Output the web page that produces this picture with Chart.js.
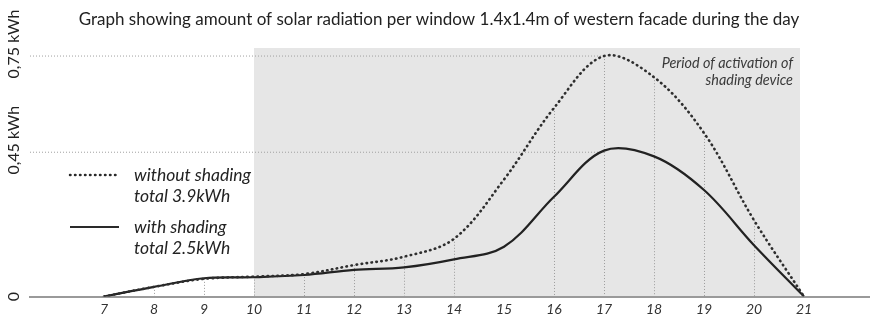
<!DOCTYPE html>
<html>
<head>
<meta charset="utf-8">
<script src="https://cdn.jsdelivr.net/npm/chart.js@4.4.0/dist/chart.umd.min.js"></script>
<style>
  html, body { margin: 0; padding: 0; background: #fff; }
</style>
</head>
<body>
<canvas id="chart" width="870" height="319"></canvas>
<script>
// hours of the day (x axis)
const hours = [7, 8, 9, 10, 11, 12, 13, 14, 15, 16, 17, 18, 19, 20, 21];
// kWh per window
const withoutShading = [0, 0.03, 0.055, 0.062, 0.07, 0.098, 0.124, 0.18, 0.365, 0.588, 0.75, 0.684, 0.51, 0.238, 0];
const withShading    = [0, 0.03, 0.057, 0.06, 0.067, 0.083, 0.091, 0.116, 0.155, 0.311, 0.455, 0.437, 0.332, 0.16, 0];
const yTicks = [0, 0.45, 0.75];
const yTickLabels = ['0', '0,45 kWh', '0,75 kWh'];
const guideHours = [8, 9, 10, 11, 12, 13, 14, 16, 17, 18, 19, 20];
const shadePeriod = [10, 20.92];
const legendLines = [
  ['without shading', 'total 3.9kWh'],
  ['with shading', 'total 2.5kWh'],
];
const title = 'Graph showing amount of solar radiation per window 1.4x1.4m of western facade during the day';
const note = ['Period of activation of', 'shading device'];

const X_MIN = 5.52, X_MAX = 22.32, Y_MAX = 0.8, SHADE_TOP = 0.775;
const FONT = 'Lato';
const DOTS = [0.5, 4.5];

const pts = arr => hours.map((h, i) => ({ x: h, y: arr[i] }));
const guide = v => [{ x: X_MIN, y: v }, { x: 17, y: v }];

const decor = {
  id: 'decor',
  beforeDraw(chart) {
    const { ctx, scales: { x, y } } = chart;
    const b = y.getPixelForValue(0);
    ctx.save();
    // shaded activation period
    const l = x.getPixelForValue(shadePeriod[0]);
    const r = x.getPixelForValue(shadePeriod[1]);
    const t = y.getPixelForValue(SHADE_TOP);
    ctx.fillStyle = '#e6e6e6';
    ctx.fillRect(l, t, r - l, b - t);
    // dotted drop lines
    ctx.strokeStyle = '#9c9c9c';
    ctx.lineWidth = 1;
    ctx.setLineDash([1, 2]);
    guideHours.forEach(h => {
      const i = hours.indexOf(h);
      const px = Math.round(x.getPixelForValue(h)) + 0.5;
      ctx.beginPath();
      ctx.moveTo(px, y.getPixelForValue(withoutShading[i]));
      ctx.lineTo(px, b);
      ctx.stroke();
    });
    ctx.restore();
  },
  afterDraw(chart) {
    const { ctx, scales: { y } } = chart;
    ctx.save();
    ctx.fillStyle = '#222';
    ctx.textBaseline = 'middle';

    // title
    ctx.font = `17px ${FONT}`;
    ctx.textAlign = 'center';
    ctx.fillText(title, 439, 20);

    // rotated y labels
    ctx.font = `16px ${FONT}`;
    yTicks.forEach((v, i) => {
      ctx.save();
      ctx.translate(14, y.getPixelForValue(v) - (v ? 12 : 0));
      ctx.rotate(-Math.PI / 2);
      ctx.fillText(yTickLabels[i], 0, 0);
      ctx.restore();
    });

    // note in shaded area
    ctx.fillStyle = '#3a3a3a';
    ctx.font = `italic 14.4px ${FONT}`;
    ctx.textAlign = 'right';
    ctx.fillText(note[0], 793, 63);
    ctx.fillText(note[1], 793, 80);

    // legend
    ctx.fillStyle = '#222';
    ctx.font = `italic 17.5px ${FONT}`;
    ctx.textAlign = 'left';
    const rows = [175, 227];
    rows.forEach((ry, k) => {
      ctx.save();
      ctx.strokeStyle = '#2a2a2a';
      ctx.lineWidth = k === 0 ? 2.5 : 2.2;
      ctx.lineCap = k === 0 ? 'round' : 'butt';
      ctx.setLineDash(k === 0 ? DOTS : []);
      ctx.beginPath();
      ctx.moveTo(70, ry);
      ctx.lineTo(119, ry);
      ctx.stroke();
      ctx.restore();
      ctx.fillText(legendLines[k][0], 134, ry);
      ctx.fillText(legendLines[k][1], 134, ry + 21);
    });
    ctx.restore();
  },
};

new Chart(document.getElementById('chart'), {
  type: 'line',
  data: {
    datasets: [
      {
        data: pts(withoutShading),
        borderColor: '#2e2e2e',
        borderWidth: 2.6,
        borderDash: DOTS,
        borderCapStyle: 'round',
        tension: 0.35,
        pointRadius: 0,
        fill: false,
      },
      {
        data: pts(withShading),
        borderColor: '#222',
        borderWidth: 2.2,
        tension: 0.35,
        pointRadius: 0,
        fill: false,
      },
      {
        data: guide(0.75),
        borderColor: '#a0a0a0',
        borderWidth: 1,
        borderDash: [1, 2],
        pointRadius: 0,
      },
      {
        data: guide(0.45),
        borderColor: '#a0a0a0',
        borderWidth: 1,
        borderDash: [1, 2],
        pointRadius: 0,
      },
    ],
  },
  options: {
    responsive: false,
    animation: false,
    devicePixelRatio: 1,
    layout: { padding: { left: 30, top: 40, right: 0, bottom: 0 } },
    plugins: { legend: { display: false }, tooltip: { enabled: false }, title: { display: false } },
    scales: {
      x: {
        type: 'linear',
        min: X_MIN,
        max: X_MAX,
        afterBuildTicks: s => { s.ticks = hours.map(v => ({ value: v })); },
        afterFit: s => { s.height = 22.5; },
        grid: { display: false, drawTicks: false },
        border: { display: true, color: '#9a9a9a', width: 2 },
        ticks: {
          autoSkip: false,
          maxRotation: 0,
          padding: 5,
          color: '#333',
          font: { family: FONT, size: 14, style: 'italic' },
          callback: v => v,
        },
      },
      y: {
        min: 0,
        max: Y_MAX,
        display: false,
      },
    },
  },
  plugins: [decor],
});
</script>
</body>
</html>
